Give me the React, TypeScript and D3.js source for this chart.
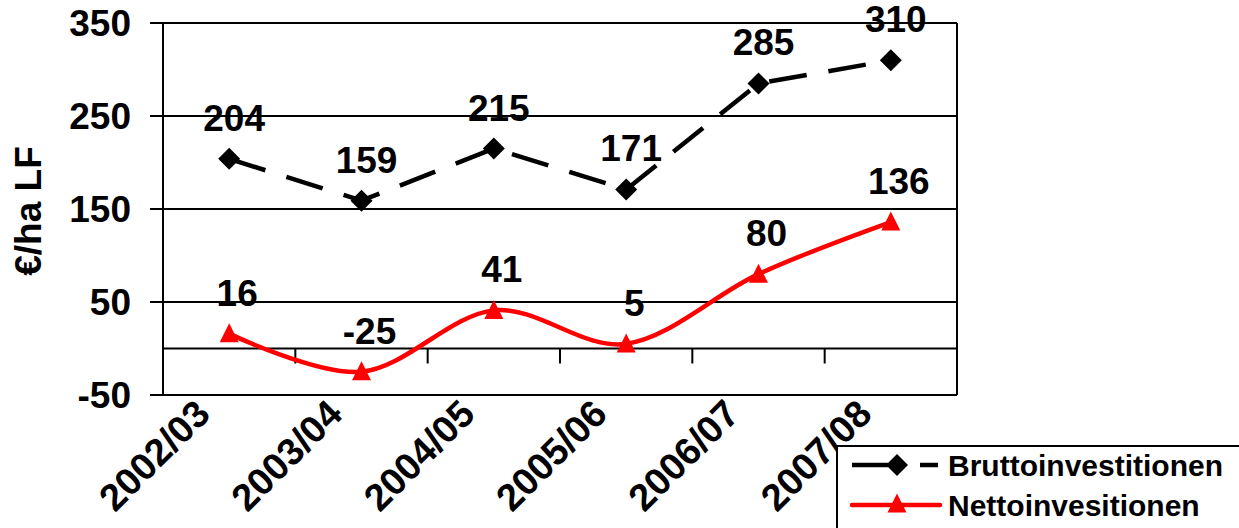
import React from "react";
import * as d3 from "d3";

const categories = ["2002/03", "2003/04", "2004/05", "2005/06", "2006/07", "2007/08"];
const bruttoValues = [204, 159, 215, 171, 285, 310];
const nettoValues = [16, -25, 41, 5, 80, 136];
const yTicks = [-50, 50, 150, 250, 350];
const seriesNames = ["Bruttoinvestitionen", "Nettoinvesitionen"];
const yTitle = "€/ha LF";

const W = 1239;
const H = 528;
const FONT = "Liberation Sans, Arial, Helvetica, sans-serif";

export default function App() {
  const left = 163, right = 957, top = 23, bottom = 395;
  const x = d3.scaleBand<string>().domain(categories).range([left, right]);
  const y = d3.scaleLinear().domain([-50, 350]).range([bottom, top]);
  const cx = (c: string) => (x(c) as number) + x.bandwidth() / 2;

  const bruttoLine = d3.line<number>().x((_, i) => cx(categories[i])).y((v) => y(v));
  const nettoLine = d3
    .line<number>()
    .x((_, i) => cx(categories[i]))
    .y((v) => y(v))
    .curve(d3.curveCardinal.tension(0));

  const diamond = (px: number, py: number, r: number) =>
    `M${px},${py - r}L${px + r},${py}L${px},${py + r}L${px - r},${py}Z`;
  const tri = (px: number, py: number, s: number) =>
    `M${px},${py - s * 0.55}L${px + s / 2},${py + s * 0.45}L${px - s / 2},${py + s * 0.45}Z`;

  const boundaries = categories.slice(1).map((c) => x(c) as number);

  return (
    <svg width={W} height={H} style={{ position: "absolute", left: 0, top: 0, background: "#fff" }} fontFamily={FONT}>
      <rect x={0} y={0} width={W} height={H} fill="#fff" />
      {/* gridlines */}
      {yTicks.map((t) => (
        <line key={t} x1={150} x2={right} y1={y(t)} y2={y(t)} stroke="#000" strokeWidth={2} />
      ))}
      <line x1={left} x2={left} y1={top} y2={bottom} stroke="#000" strokeWidth={2} />
      <line x1={right} x2={right} y1={top} y2={bottom} stroke="#000" strokeWidth={2} />
      {/* zero line + category ticks */}
      <line x1={left} x2={right} y1={y(0)} y2={y(0)} stroke="#000" strokeWidth={2} />
      {boundaries.map((b, i) => (
        <line key={i} x1={b} x2={b} y1={y(0)} y2={y(0) + 15} stroke="#000" strokeWidth={2} />
      ))}
      {/* y tick labels */}
      {yTicks.map((t) => (
        <text key={t} x={131} y={y(t) + 13} textAnchor="end" fontSize={37} fontWeight="bold">
          {t}
        </text>
      ))}
      <text
        transform={`translate(41,${(top + bottom) / 2 + 2}) rotate(-90)`}
        textAnchor="middle"
        fontSize={37}
        fontWeight="bold"
      >
        {yTitle}
      </text>
      {/* x labels */}
      {categories.map((c) => (
        <text
          key={c}
          transform={`translate(${cx(c) - 17},${416}) rotate(-45)`}
          textAnchor="end"
          fontSize={38}
          fontWeight="bold"
        >
          {c}
        </text>
      ))}
      {/* series */}
      <path d={bruttoLine(bruttoValues) || ""} fill="none" stroke="#000" strokeWidth={4.5} strokeDasharray="38,22" />
      <path d={nettoLine(nettoValues) || ""} fill="none" stroke="#ff0000" strokeWidth={4.5} />
      {bruttoValues.map((v, i) => (
        <path key={i} d={diamond(cx(categories[i]), y(v), 11)} fill="#000" />
      ))}
      {nettoValues.map((v, i) => (
        <path key={i} d={tri(cx(categories[i]), y(v), 19)} fill="#ff0000" />
      ))}
      {bruttoValues.map((v, i) => (
        <text key={i} x={cx(categories[i]) + 5} y={y(v) - 28} textAnchor="middle" fontSize={37} fontWeight="bold">
          {v}
        </text>
      ))}
      {nettoValues.map((v, i) => (
        <text key={i} x={cx(categories[i]) + 8} y={y(v) - 28} textAnchor="middle" fontSize={37} fontWeight="bold">
          {v}
        </text>
      ))}
      {/* legend */}
      <rect x={837} y={446} width={420} height={100} fill="#fff" stroke="#000" strokeWidth={2} />
      <line x1={852} x2={888} y1={465} y2={465} stroke="#000" strokeWidth={4.5} />
      <line x1={920} x2={938} y1={465} y2={465} stroke="#000" strokeWidth={4.5} />
      <path d={diamond(897, 465, 11)} fill="#000" />
      <text x={948} y={476} fontSize={30} fontWeight="bold">{seriesNames[0]}</text>
      <line x1={852} x2={940} y1={505} y2={505} stroke="#ff0000" strokeWidth={4.5} strokeLinecap="round" />
      <path d={tri(897, 504, 19)} fill="#ff0000" />
      <text x={948} y={516} fontSize={30} fontWeight="bold">{seriesNames[1]}</text>
    </svg>
  );
}
